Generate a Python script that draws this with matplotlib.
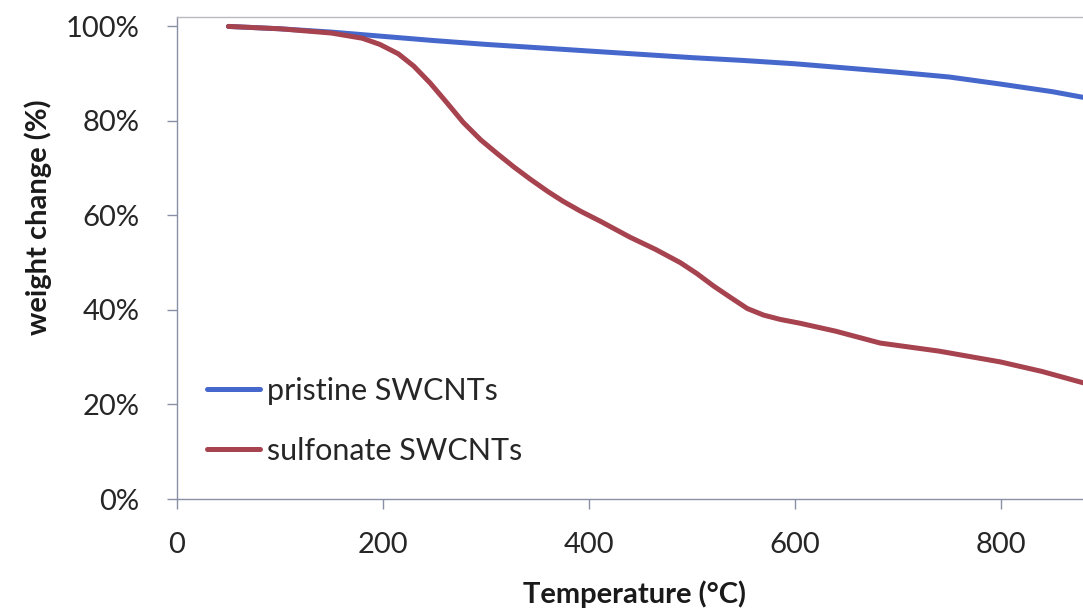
import matplotlib
matplotlib.use("Agg")
import matplotlib.pyplot as plt
from matplotlib.ticker import PercentFormatter

# Thermogravimetric curves (temperature in °C, remaining weight fraction)
temp_pristine = [50, 100, 150, 200, 250, 300, 350, 400, 450, 500, 550, 600, 650, 700, 750, 800, 850, 880]
weight_pristine = [1.000, 0.995, 0.988, 0.979, 0.970, 0.962, 0.955, 0.948, 0.941, 0.934, 0.928, 0.921, 0.912, 0.903, 0.893, 0.878, 0.862, 0.850]

temp_sulfonate = [50, 100, 150, 180, 197, 215, 230, 246, 262, 278, 295, 311, 327, 343, 360, 375, 392, 411, 440, 465, 489, 505, 521, 538, 554, 570, 586, 605, 640, 683, 740, 800, 840, 880]
weight_sulfonate = [1.000, 0.995, 0.986, 0.975, 0.962, 0.942, 0.916, 0.880, 0.839, 0.797, 0.760, 0.731, 0.703, 0.677, 0.651, 0.630, 0.609, 0.588, 0.554, 0.528, 0.500, 0.477, 0.451, 0.426, 0.403, 0.389, 0.380, 0.372, 0.355, 0.330, 0.313, 0.290, 0.270, 0.246]

series_labels = ["pristine SWCNTs", "sulfonate SWCNTs"]
x_ticks = [0, 200, 400, 600, 800]
y_ticks = [0, 0.2, 0.4, 0.6, 0.8, 1.0]

plt.rcParams["font.family"] = ["Lato", "DejaVu Sans"]

fig = plt.figure(figsize=(10.83, 6.15), dpi=100)
ax = fig.add_axes([0.1634, 0.1886, 0.8366, 0.7838])

ax.plot(temp_pristine, weight_pristine, color="#4668cc", lw=3.6,
        solid_capstyle="round", solid_joinstyle="round", label=series_labels[0])
ax.plot(temp_sulfonate, weight_sulfonate, color="#a6434f", lw=3.6,
        solid_capstyle="round", solid_joinstyle="round", label=series_labels[1])

ax.set_xlim(0, 880)
ax.set_ylim(0, 1.02)
ax.set_xticks(x_ticks)
ax.set_yticks(y_ticks)
ax.yaxis.set_major_formatter(PercentFormatter(1.0, decimals=0))

axis_col = "#8a8fa8"
for side in ["left", "bottom"]:
    ax.spines[side].set_color(axis_col)
    ax.spines[side].set_linewidth(1.0)
ax.spines["top"].set_color("#b8b8c0")
ax.spines["top"].set_linewidth(1.0)
ax.spines["right"].set_visible(False)

ax.tick_params(axis="both", direction="out", length=7, width=1.0,
               color=axis_col, labelsize=21, labelcolor="#262626")
ax.tick_params(axis="x", pad=17)
ax.tick_params(axis="y", pad=20)

ax.set_xlabel("Temperature (°C)", fontsize=21, fontweight="bold", color="#1a1a1a")
ax.set_ylabel("weight change (%)", fontsize=21, fontweight="bold", color="#1a1a1a")
ax.xaxis.set_label_coords(0.5055, -0.168)
ax.yaxis.set_label_coords(-0.138, 0.585)

ax.legend(loc="upper left", bbox_to_anchor=(0.033, 0.253), frameon=False,
          fontsize=22, handlelength=1.73, handletextpad=0.23,
          labelspacing=1.04, borderpad=0, borderaxespad=0,
          labelcolor="#262626")

fig.savefig("out.png", dpi=100, facecolor="white")
